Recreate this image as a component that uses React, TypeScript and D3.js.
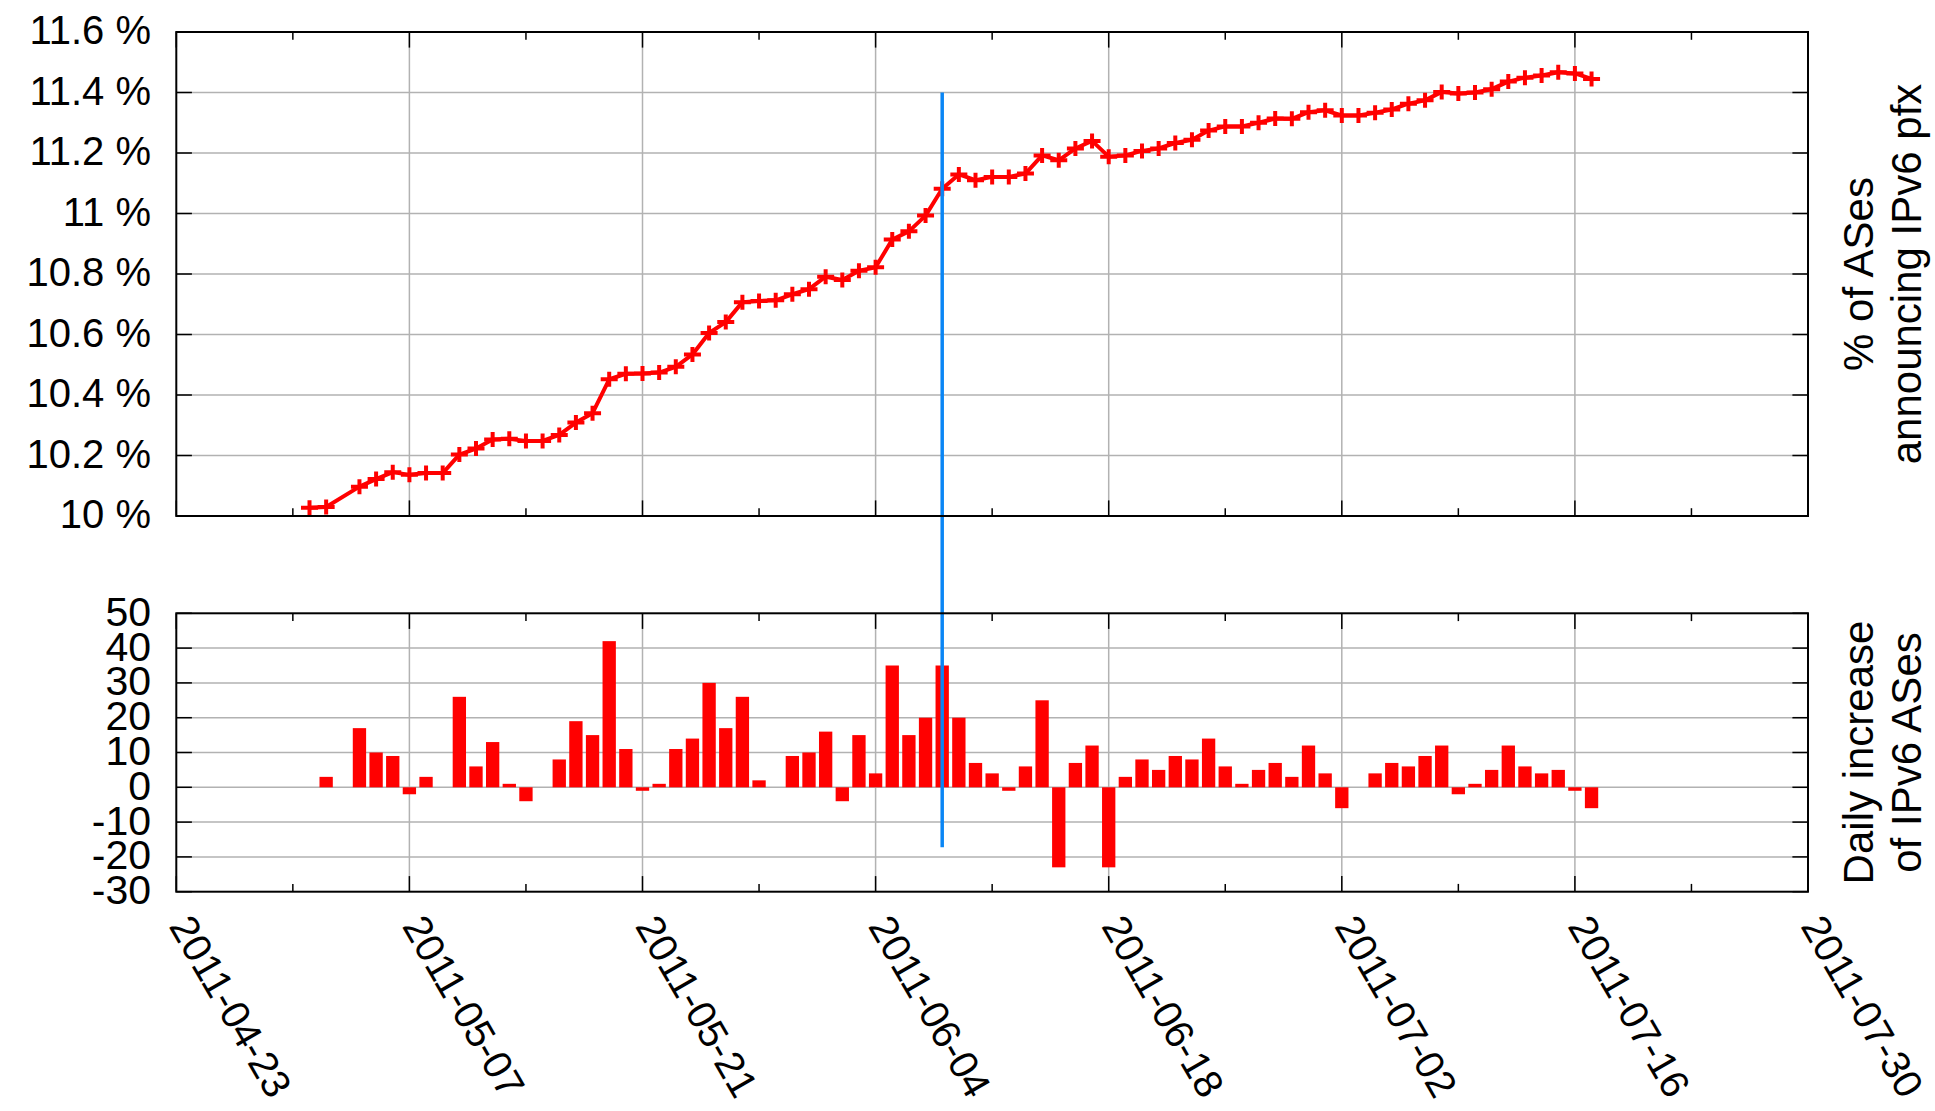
import React from "react";
import * as d3 from "d3";

// ---------- data ----------
const dates = [
  "2011-05-01", "2011-05-02", "2011-05-04", "2011-05-05", "2011-05-06", "2011-05-07", "2011-05-08",
  "2011-05-09", "2011-05-10", "2011-05-11", "2011-05-12", "2011-05-13", "2011-05-14", "2011-05-15",
  "2011-05-16", "2011-05-17", "2011-05-18", "2011-05-19", "2011-05-20", "2011-05-21", "2011-05-22",
  "2011-05-23", "2011-05-24", "2011-05-25", "2011-05-26", "2011-05-27", "2011-05-28", "2011-05-29",
  "2011-05-30", "2011-05-31",
  "2011-06-01", "2011-06-02", "2011-06-03", "2011-06-04", "2011-06-05", "2011-06-06", "2011-06-07",
  "2011-06-08", "2011-06-09", "2011-06-10", "2011-06-11", "2011-06-12", "2011-06-13", "2011-06-14",
  "2011-06-15", "2011-06-16", "2011-06-17", "2011-06-18", "2011-06-19", "2011-06-20", "2011-06-21",
  "2011-06-22", "2011-06-23", "2011-06-24", "2011-06-25", "2011-06-26", "2011-06-27", "2011-06-28",
  "2011-06-29", "2011-06-30",
  "2011-07-01", "2011-07-02", "2011-07-03", "2011-07-04", "2011-07-05", "2011-07-06", "2011-07-07",
  "2011-07-08", "2011-07-09", "2011-07-10", "2011-07-11", "2011-07-12", "2011-07-13", "2011-07-14",
  "2011-07-15", "2011-07-16", "2011-07-17",
];

const percentValues = [
  10.027, 10.030, 10.097, 10.122, 10.145, 10.136, 10.142, 10.142, 10.203, 10.223,
  10.253, 10.255, 10.248, 10.248, 10.268, 10.309, 10.340, 10.452, 10.470, 10.471,
  10.474, 10.493, 10.534, 10.605, 10.641, 10.707, 10.711, 10.713, 10.733, 10.750,
  10.791, 10.780, 10.811, 10.822, 10.914, 10.941, 10.993, 11.082, 11.129, 11.110,
  11.121, 11.121, 11.132, 11.192, 11.176, 11.215, 11.240, 11.188, 11.192, 11.207,
  11.215, 11.233, 11.244, 11.274, 11.288, 11.288, 11.300, 11.314, 11.313, 11.335,
  11.341, 11.324, 11.324, 11.333, 11.344, 11.363, 11.374, 11.402, 11.397, 11.400,
  11.411, 11.436, 11.449, 11.456, 11.467, 11.463, 11.445,
];

// daily increase for dates[1..]
const dailyIncrease = [
  3, 17, 10, 9, -2, 3, 0, 26, 6, 13, 1, -4, 0, 8, 19, 15, 42, 11, -1, 1,
  11, 14, 30, 17, 26, 2, 0, 9, 10,
  16, -4, 15, 4, 35, 15, 20, 35, 20, 7, 4, -1, 6, 25, -23, 7, 12, -23, 3, 8,
  5, 9, 8, 14, 6, 1, 5, 7, 3, 12,
  4, -6, 0, 4, 7, 6, 9, 12, -2, 1, 5, 12, 6, 4, 5, -1, -6,
];

const xTickLabels = [
  "2011-04-23", "2011-05-07", "2011-05-21", "2011-06-04",
  "2011-06-18", "2011-07-02", "2011-07-16", "2011-07-30",
];
const topTicks = [10, 10.2, 10.4, 10.6, 10.8, 11, 11.2, 11.4, 11.6];
const topTickLabels = ["10 %", "10.2 %", "10.4 %", "10.6 %", "10.8 %", "11 %", "11.2 %", "11.4 %", "11.6 %"];
const bottomTicks = [-30, -20, -10, 0, 10, 20, 30, 40, 50];
const bottomTickLabels = ["-30", "-20", "-10", "0", "10", "20", "30", "40", "50"];
const topAxisTitle = ["% of ASes", "announcing IPv6 pfx"];
const bottomAxisTitle = ["Daily increase", "of IPv6 ASes"];
const eventDate = "2011-06-08";
const eventTopValue = 11.4;
const eventBottomValue = -17.2;

// ---------- layout ----------
const W = 1935;
const H = 1111;
const X0 = 176.3;
const X1 = 1808;
const TOP_Y0 = 32;
const TOP_Y1 = 516;
const BOT_Y0 = 613.3;
const BOT_Y1 = 891.7;
const FONT = "'Liberation Sans', Arial, Helvetica, sans-serif";
const RED = "#ff0000";
const GRID = "#b2b2b2";
const BLUE = "#0a86f5";

const parse = (s: string) => new Date(s + "T00:00:00Z");

export default function App() {
  const x = d3
    .scaleUtc()
    .domain([parse(xTickLabels[0]), parse(xTickLabels[xTickLabels.length - 1])])
    .range([X0, X1]);
  const yTop = d3.scaleLinear().domain([10, 11.6]).range([TOP_Y1, TOP_Y0]);
  const yBot = d3.scaleLinear().domain([-30, 50]).range([BOT_Y1, BOT_Y0]);

  const majorTicks = xTickLabels.map(parse);
  const minorTicks = majorTicks.slice(0, -1).map((d) => d3.utcDay.offset(d, 7));

  const linePts = dates.map((d, i) => [x(parse(d)), yTop(percentValues[i])] as [number, number]);
  const linePath = d3.line()(linePts) || "";
  const markerPath = linePts
    .map(([px, py]) => `M${px - 8.5},${py}h17M${px},${py - 7.5}v15`)
    .join("");

  const dayW = x(parse("2011-05-02")) - x(parse("2011-05-01"));
  const barW = dayW * 0.8;

  const renderPanel = (
    y0: number,
    y1: number,
    yScale: d3.ScaleLinear<number, number>,
    ticks: number[],
    labels: string[],
    baselineOffset: number,
    fontSize: number
  ) => (
    <g>
      {majorTicks.slice(1, -1).map((d, i) => (
        <line key={"vg" + i} x1={x(d)} x2={x(d)} y1={y0} y2={y1} stroke={GRID} strokeWidth={1.5} />
      ))}
      {ticks.slice(1, -1).map((t, i) => (
        <line key={"hg" + i} x1={X0} x2={X1} y1={yScale(t)} y2={yScale(t)} stroke={GRID} strokeWidth={1.5} />
      ))}
      {ticks.map((t, i) => (
        <g key={"yt" + i}>
          <line x1={X0} x2={X0 + 15.6} y1={yScale(t)} y2={yScale(t)} stroke="#000" strokeWidth={1.5} />
          <line x1={X1} x2={X1 - 15.6} y1={yScale(t)} y2={yScale(t)} stroke="#000" strokeWidth={1.5} />
          <text
            x={151}
            y={yScale(t) + baselineOffset}
            textAnchor="end"
            fontFamily={FONT}
            fontSize={fontSize}
            fill="#000"
          >
            {labels[i]}
          </text>
        </g>
      ))}
      {majorTicks.map((d, i) => (
        <g key={"xm" + i}>
          <line x1={x(d)} x2={x(d)} y1={y1} y2={y1 - 15.6} stroke="#000" strokeWidth={1.5} />
          <line x1={x(d)} x2={x(d)} y1={y0} y2={y0 + 15.6} stroke="#000" strokeWidth={1.5} />
        </g>
      ))}
      {minorTicks.map((d, i) => (
        <g key={"xn" + i}>
          <line x1={x(d)} x2={x(d)} y1={y1} y2={y1 - 7.8} stroke="#000" strokeWidth={1.5} />
          <line x1={x(d)} x2={x(d)} y1={y0} y2={y0 + 7.8} stroke="#000" strokeWidth={1.5} />
        </g>
      ))}
    </g>
  );

  const evX = x(parse(eventDate));

  return (
    <div style={{ position: "absolute", left: 0, top: 0 }}>
      <svg width={W} height={H} style={{ display: "block", background: "#fff" }}>
        <rect x={0} y={0} width={W} height={H} fill="#fff" />
        {renderPanel(TOP_Y0, TOP_Y1, yTop, topTicks, topTickLabels, 12, 40)}
        {renderPanel(BOT_Y0, BOT_Y1, yBot, bottomTicks, bottomTickLabels, 12.5, 41)}

        {/* bars */}
        {dailyIncrease.map((v, i) => {
          const d = parse(dates[i + 1]);
          const cx = x(d);
          const yA = yBot(Math.max(0, v));
          const yB = yBot(Math.min(0, v));
          return (
            <rect key={"b" + i} x={cx - barW / 2} y={yA} width={barW} height={Math.max(0, yB - yA)} fill={RED} />
          );
        })}

        {/* line + markers */}
        <path d={linePath} fill="none" stroke={RED} strokeWidth={4} strokeLinejoin="round" />
        <path d={markerPath} fill="none" stroke={RED} strokeWidth={4} />

        {/* event line */}
        <line x1={evX} x2={evX} y1={yTop(eventTopValue)} y2={yBot(eventBottomValue)} stroke={BLUE} strokeWidth={3.5} />

        {/* borders */}
        <rect x={X0} y={TOP_Y0} width={X1 - X0} height={TOP_Y1 - TOP_Y0} fill="none" stroke="#000" strokeWidth={2} />
        <rect x={X0} y={BOT_Y0} width={X1 - X0} height={BOT_Y1 - BOT_Y0} fill="none" stroke="#000" strokeWidth={2} />

        {/* x labels */}
        {majorTicks.map((d, i) => (
          <text
            key={"xl" + i}
            transform={`translate(${x(d) - 8},${926}) rotate(60)`}
            fontFamily={FONT}
            fontSize={40}
            fill="#000"
          >
            {xTickLabels[i]}
          </text>
        ))}

        {/* right axis titles */}
        {topAxisTitle.map((t, i) => (
          <text
            key={"tt" + i}
            transform={`translate(${1873 + i * 48},${(TOP_Y0 + TOP_Y1) / 2}) rotate(-90)`}
            textAnchor="middle"
            fontFamily={FONT}
            fontSize={42}
            fill="#000"
          >
            {t}
          </text>
        ))}
        {bottomAxisTitle.map((t, i) => (
          <text
            key={"bt" + i}
            transform={`translate(${1873 + i * 48},${(BOT_Y0 + BOT_Y1) / 2}) rotate(-90)`}
            textAnchor="middle"
            fontFamily={FONT}
            fontSize={42}
            fill="#000"
          >
            {t}
          </text>
        ))}
      </svg>
    </div>
  );
}
